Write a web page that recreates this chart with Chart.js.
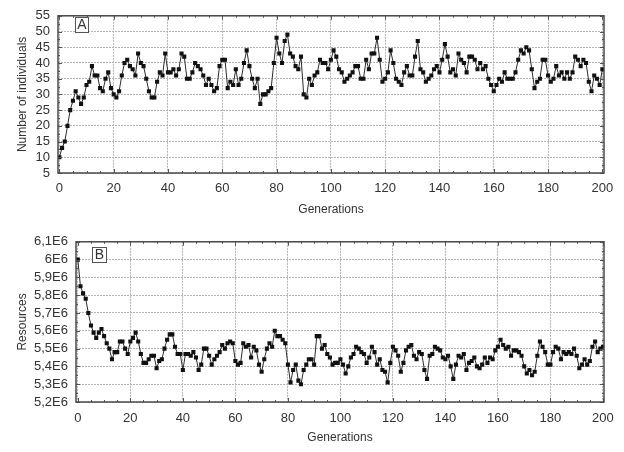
<!DOCTYPE html>
<html>
<head>
<meta charset="utf-8">
<script src="https://cdn.jsdelivr.net/npm/chart.js@4.4.1/dist/chart.umd.min.js"></script>
<style>
  html, body { margin: 0; padding: 0; background: #fff; }
  .panel { position: absolute; left: 0; width: 624px; height: 226px; }
</style>
</head>
<body>
<div class="panel" style="top:0"><canvas id="individuals" width="624" height="226"></canvas></div>
<div class="panel" style="top:226px"><canvas id="resources" width="624" height="226"></canvas></div>
<script>
// population size per generation (panel A)
var individuals = [
  10, 13, 15, 20, 25, 28, 31, 29, 27, 29,
  33, 34, 39, 36, 36, 32, 31, 35, 37, 32,
  30, 29, 31, 36, 40, 41, 39, 38, 36, 43,
  40, 39, 35, 31, 29, 29, 34, 37, 36, 43,
  37, 37, 38, 36, 38, 43, 42, 35, 35, 37,
  40, 39, 38, 36, 33, 35, 33, 31, 32, 39,
  41, 41, 32, 34, 33, 38, 33, 35, 40, 44,
  39, 35, 32, 35, 27, 30, 30, 31, 32, 40,
  48, 43, 40, 47, 49, 43, 42, 39, 38, 42,
  30, 29, 35, 33, 36, 37, 41, 40, 40, 38,
  41, 44, 42, 38, 37, 34, 35, 36, 37, 39,
  39, 35, 35, 41, 38, 43, 43, 48, 41, 34,
  35, 37, 44, 40, 35, 34, 33, 37, 39, 36,
  36, 42, 47, 38, 37, 34, 35, 36, 38, 39,
  37, 41, 46, 42, 37, 38, 36, 43, 41, 40,
  37, 42, 42, 41, 38, 40, 38, 39, 35, 33,
  31, 33, 35, 34, 37, 35, 35, 35, 37, 41,
  44, 43, 45, 44, 38, 32, 34, 35, 41, 41,
  36, 34, 35, 39, 36, 37, 35, 37, 35, 37,
  42, 41, 39, 41, 40, 34, 31, 36, 35, 33,
  38
];

// resources per generation, in millions (panel B)
var resourcesM = [
  6.00, 5.85, 5.81, 5.78, 5.70, 5.63, 5.59, 5.56, 5.59, 5.61,
  5.57, 5.53, 5.50, 5.44, 5.48, 5.48, 5.54, 5.54, 5.50, 5.47,
  5.54, 5.56, 5.59, 5.54, 5.47, 5.42, 5.42, 5.44, 5.46, 5.46,
  5.39, 5.43, 5.44, 5.50, 5.55, 5.58, 5.58, 5.51, 5.47, 5.47,
  5.38, 5.47, 5.47, 5.46, 5.48, 5.45, 5.38, 5.41, 5.50, 5.50,
  5.46, 5.41, 5.44, 5.46, 5.48, 5.52, 5.50, 5.53, 5.54, 5.53,
  5.43, 5.41, 5.42, 5.53, 5.51, 5.52, 5.45, 5.51, 5.49, 5.41,
  5.37, 5.44, 5.50, 5.53, 5.51, 5.60, 5.57, 5.57, 5.55, 5.53,
  5.41, 5.31, 5.38, 5.41, 5.32, 5.30, 5.38, 5.41, 5.44, 5.44,
  5.41, 5.57, 5.57, 5.50, 5.52, 5.47, 5.45, 5.41, 5.42, 5.42,
  5.44, 5.41, 5.36, 5.40, 5.45, 5.47, 5.51, 5.50, 5.48, 5.47,
  5.42, 5.45, 5.51, 5.48, 5.41, 5.44, 5.38, 5.37, 5.31, 5.42,
  5.51, 5.49, 5.46, 5.37, 5.42, 5.49, 5.51, 5.52, 5.46, 5.44,
  5.48, 5.47, 5.38, 5.33, 5.46, 5.47, 5.51, 5.50, 5.49, 5.45,
  5.44, 5.46, 5.40, 5.33, 5.41, 5.46, 5.45, 5.47, 5.38, 5.42,
  5.43, 5.45, 5.40, 5.39, 5.41, 5.45, 5.42, 5.45, 5.44, 5.49,
  5.51, 5.55, 5.52, 5.50, 5.51, 5.46, 5.49, 5.49, 5.48, 5.46,
  5.40, 5.36, 5.38, 5.35, 5.37, 5.46, 5.54, 5.51, 5.48, 5.41,
  5.41, 5.48, 5.51, 5.50, 5.44, 5.48, 5.47, 5.48, 5.47, 5.50,
  5.46, 5.39, 5.41, 5.44, 5.41, 5.43, 5.51, 5.54, 5.48, 5.50,
  5.51
];

var generationTicks = [0, 20, 40, 60, 80, 100, 120, 140, 160, 180, 200];
var individualTicks = [5, 10, 15, 20, 25, 30, 35, 40, 45, 50, 55];
var resourceTicks = [5.2e6, 5.3e6, 5.4e6, 5.5e6, 5.6e6, 5.7e6, 5.8e6, 5.9e6, 6.0e6, 6.1e6];

Chart.defaults.font.family = "'Liberation Sans', Arial, sans-serif";
Chart.defaults.color = '#333';

// box around the plot, small inward ticks and the panel letter
var framePlugin = {
  id: 'frame',
  afterDatasetsDraw: function (chart, args, opts) {
    var a = chart.chartArea, ctx = chart.ctx;
    var xs = chart.scales.x, ys = chart.scales.y;
    var yv = ys.ticks.map(function (t) { return t.value; });
    ctx.save();
    ctx.strokeStyle = '#555';
    ctx.lineWidth = 1;
    ctx.beginPath();
    for (var g = 0; g <= 200; g += 5) {
      var px = Math.round(xs.getPixelForValue(g)) + 0.5;
      var len = g % 20 === 0 ? 4 : 2;
      ctx.moveTo(px, a.bottom); ctx.lineTo(px, a.bottom - len);
      ctx.moveTo(px, a.top); ctx.lineTo(px, a.top + len);
    }
    yv.forEach(function (v, i) {
      var py = Math.round(ys.getPixelForValue(v)) + 0.5;
      ctx.moveTo(a.left, py); ctx.lineTo(a.left + 4, py);
      ctx.moveTo(a.right, py); ctx.lineTo(a.right - 4, py);
      if (i < yv.length - 1) {
        var pm = Math.round(ys.getPixelForValue((v + yv[i + 1]) / 2)) + 0.5;
        ctx.moveTo(a.left, pm); ctx.lineTo(a.left + 2, pm);
        ctx.moveTo(a.right, pm); ctx.lineTo(a.right - 2, pm);
      }
    });
    ctx.stroke();

    ctx.strokeStyle = '#4a4a4a';
    ctx.lineWidth = 1.5;
    ctx.strokeRect(a.left, a.top, a.right - a.left, a.bottom - a.top);

    // panel letter in a small box
    var b = opts.box;
    ctx.fillStyle = '#fff';
    ctx.fillRect(b.x, b.y, b.w, b.h);
    ctx.strokeStyle = '#555';
    ctx.lineWidth = 1;
    ctx.strokeRect(b.x + 0.5, b.y + 0.5, b.w, b.h);
    ctx.fillStyle = '#333';
    ctx.font = "14px 'Liberation Sans', Arial, sans-serif";
    ctx.textAlign = 'center';
    ctx.textBaseline = 'middle';
    ctx.fillText(opts.letter, b.x + b.w / 2 + 0.5, b.y + b.h / 2 + 1);
    ctx.restore();
  }
};

function makePanel(canvasId, values, yTicks, yMin, yMax, yLabel, yFormat, geom) {
  var points = values.map(function (v, i) { return { x: i, y: v }; });
  var gridStyle = { color: '#b4b4b4', lineWidth: 1, drawTicks: false, drawOnChartArea: true };
  return new Chart(document.getElementById(canvasId), {
    type: 'line',
    data: {
      datasets: [{
        data: points,
        borderColor: '#2b2b2b',
        borderWidth: 1,
        pointStyle: 'rect',
        pointRadius: 2.9,
        pointBorderWidth: 0,
        pointBackgroundColor: '#111',
        tension: 0
      }]
    },
    options: {
      responsive: false,
      animation: false,
      layout: { padding: { top: geom.top, right: geom.right, left: 0, bottom: 0 } },
      plugins: {
        legend: { display: false },
        tooltip: { enabled: false },
        frame: { letter: geom.letter, box: geom.box }
      },
      scales: {
        x: {
          type: 'linear',
          min: geom.xMin,
          max: geom.xMax,
          afterBuildTicks: function (s) { s.ticks = generationTicks.map(function (v) { return { value: v }; }); },
          afterFit: function (s) { s.height = geom.xHeight; },
          ticks: { font: { size: 13 }, padding: geom.xPad, maxRotation: 0, autoSkip: false, color: '#333' },
          grid: gridStyle,
          border: { display: false, dash: [2, 1] },
          title: { display: true, text: 'Generations', font: { size: 12 }, color: '#333', padding: { bottom: geom.xTitlePad } }
        },
        y: {
          min: yMin,
          max: yMax,
          afterBuildTicks: function (s) { s.ticks = yTicks.map(function (v) { return { value: v }; }); },
          afterFit: function (s) { s.width = geom.yWidth; },
          ticks: { font: { size: 13 }, padding: 8, color: '#333', autoSkip: false, callback: yFormat },
          grid: gridStyle,
          border: { display: false, dash: [2, 1] },
          title: { display: true, text: yLabel, font: { size: 12 }, color: '#333', padding: { top: 15 } }
        }
      }
    },
    plugins: [framePlugin]
  });
}

makePanel('individuals', individuals, individualTicks, 5, 55, 'Number of individuals',
  function (v) { return String(v); },
  { top: 7, right: 20, yWidth: 58, xHeight: 53, xMin: -0.5, xMax: 200.6, xPad: 8, xTitlePad: 9,
    letter: 'A', box: { x: 75, y: 17, w: 13, h: 15 } });

makePanel('resources', resourcesM.map(function (v) { return v * 1e6; }), resourceTicks, 5.2e6, 6.1e6, 'Resources',
  function (v) { return String(Math.round(v / 1e5) / 10).replace('.', ',') + 'E6'; },
  { top: 9, right: 20, yWidth: 76, xHeight: 50, xMin: -0.7, xMax: 200.4, xPad: 9, xTitlePad: 7,
    letter: 'B', box: { x: 92, y: 21, w: 14, h: 15 } });
</script>
</body>
</html>
